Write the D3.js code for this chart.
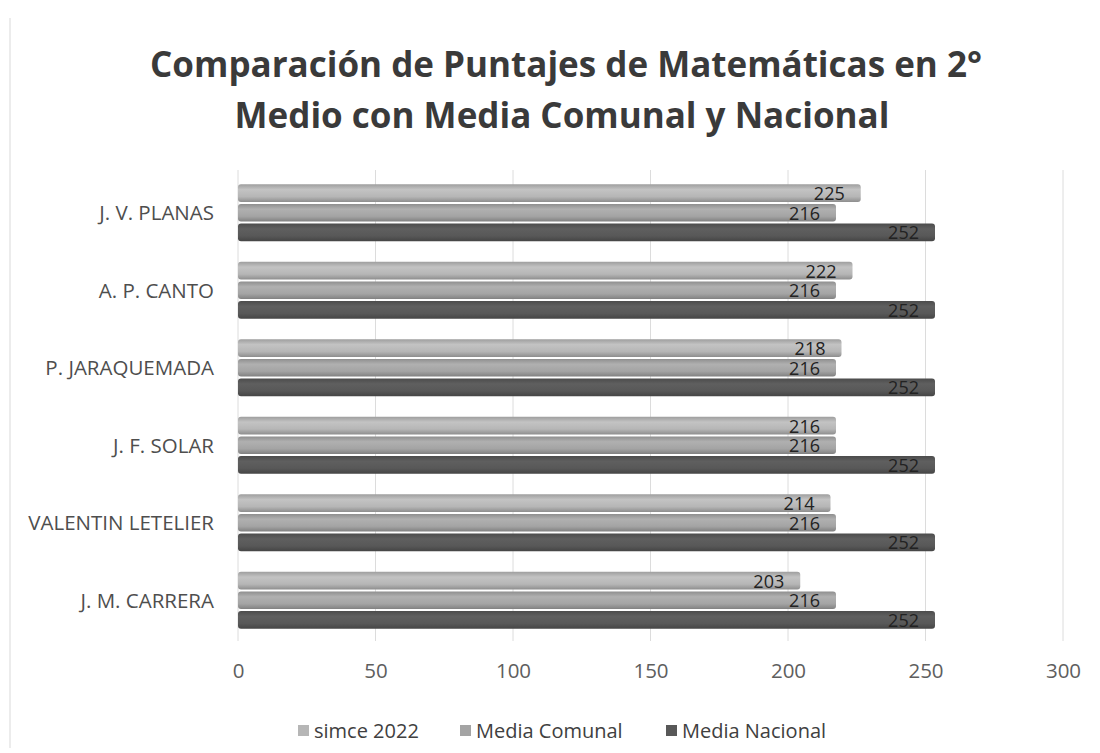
<!DOCTYPE html>
<html>
<head>
<meta charset="utf-8">
<script src="https://cdn.jsdelivr.net/npm/d3@7"></script>
<style>
body { margin: 0; background: #fff; }
svg { font-family: "Open Sans", sans-serif; }
</style>
</head>
<body>
<svg id="canvas" width="1100" height="753"></svg>
<script>
const schools = ['J. V. PLANAS', 'A. P. CANTO', 'P.  JARAQUEMADA', 'J. F. SOLAR', 'VALENTIN LETELIER', 'J. M. CARRERA'];
const simce2022 = [225, 222, 218, 216, 214, 203];
const mediaComunal = [216, 216, 216, 216, 216, 216];
const mediaNacional = [252, 252, 252, 252, 252, 252];
const seriesNames = ['simce 2022', 'Media Comunal', 'Media Nacional'];
const xTicks = [0, 50, 100, 150, 200, 250, 300];

const svg = d3.select('#canvas');

// faint frame like the scanned chart border
svg.append('line').attr('x1', 10).attr('x2', 10).attr('y1', 18).attr('y2', 748)
	.attr('stroke', '#e6e6e6').attr('stroke-width', 1.5);

const title = svg.append('text').attr('text-anchor', 'middle').attr('fill', '#3a3a3a')
	.attr('font-weight', 'bold').attr('font-size', 35);
title.append('tspan').attr('x', 566).attr('y', 77).text('Comparación de Puntajes de Matemáticas en 2°');
title.append('tspan').attr('x', 562).attr('y', 128).text('Medio con Media Comunal y Nacional');

const x = d3.scaleLinear().domain([0, 300]).range([238, 1063]);
const y = d3.scaleBand().domain(schools).range([174, 639]).paddingInner(0.265).paddingOuter(0.1325);
const ySub = d3.scaleBand().domain(seriesNames).range([0, y.bandwidth()]).paddingInner(0.1);

// gridlines
svg.append('g').selectAll('line').data(xTicks).enter().append('line')
	.attr('x1', d => x(d)).attr('x2', d => x(d))
	.attr('y1', 170).attr('y2', 641)
	.attr('stroke', '#dcdcdc').attr('stroke-width', 1);

// cylinder gradients
const defs = svg.append('defs');
const baseColors = ['#b6b6b6', '#a4a4a4', '#585858'];
baseColors.forEach((c, i) => {
	const g = defs.append('linearGradient').attr('id', 'grad' + i)
		.attr('x1', 0).attr('x2', 0).attr('y1', 0).attr('y2', 1);
	const col = d3.color(c);
	g.append('stop').attr('offset', '0%').attr('stop-color', col.darker(0.4));
	g.append('stop').attr('offset', '30%').attr('stop-color', col.brighter(0.2));
	g.append('stop').attr('offset', '70%').attr('stop-color', col);
	g.append('stop').attr('offset', '100%').attr('stop-color', col.darker(0.7));
});

const rows = schools.map((s, i) => ({
	school: s,
	values: [simce2022[i], mediaComunal[i], mediaNacional[i]]
}));

const groups = svg.append('g').selectAll('g').data(rows).enter().append('g')
	.attr('transform', d => 'translate(0,' + y(d.school) + ')');

groups.selectAll('rect').data(d => d.values.map((v, k) => ({ v, k }))).enter().append('rect')
	.attr('x', x(0))
	.attr('y', d => ySub(seriesNames[d.k]))
	.attr('width', d => x(d.v) - x(0) + 4)
	.attr('height', ySub.bandwidth())
	.attr('rx', 3)
	.attr('fill', d => 'url(#grad' + d.k + ')');

groups.selectAll('text').data(d => d.values.map((v, k) => ({ v, k }))).enter().append('text')
	.attr('x', d => x(d.v) - 12)
	.attr('y', d => ySub(seriesNames[d.k]) + ySub.bandwidth() / 2 + 7)
	.attr('text-anchor', 'end')
	.attr('font-size', 18)
	.attr('fill', '#222')
	.text(d => d.v);

// category labels
svg.append('g').selectAll('text').data(schools).enter().append('text')
	.attr('x', 214)
	.attr('y', d => y(d) + y.bandwidth() / 2 + 7.5)
	.attr('text-anchor', 'end')
	.attr('font-size', 20.5)
	.attr('fill', '#4e4e4e')
	.text(d => d);

// x axis
const xAxis = svg.append('g').attr('transform', 'translate(0,655)')
	.call(d3.axisBottom(x).tickValues(xTicks).tickSize(0).tickPadding(8));
xAxis.select('.domain').remove();
xAxis.selectAll('text').attr('font-size', 20.5).attr('fill', '#5e5e5e')
	.attr('font-family', '"Open Sans", sans-serif');

// legend
const legendX = [298, 460, 666];
const legend = svg.append('g').selectAll('g').data(seriesNames).enter().append('g')
	.attr('transform', (d, i) => 'translate(' + legendX[i] + ',725)');
legend.append('rect').attr('width', 11).attr('height', 11)
	.attr('fill', (d, i) => baseColors[i]);
legend.append('text').attr('x', 16).attr('y', 13).attr('font-size', 20).attr('fill', '#404040')
	.text(d => d);
</script>
</body>
</html>
